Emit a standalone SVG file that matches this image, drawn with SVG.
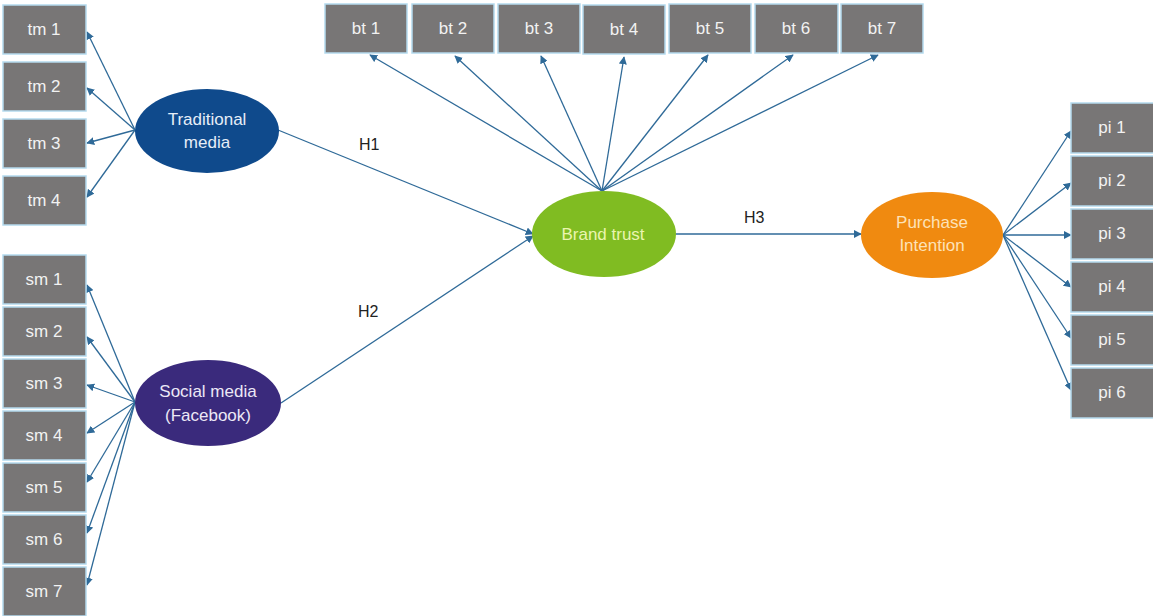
<svg xmlns="http://www.w3.org/2000/svg" width="1153" height="616" viewBox="0 0 1153 616">
<style>
.box{fill:#787676;stroke:#b4daee;stroke-width:1.5}
.bt{fill:#f2f2f2;font-family:"Liberation Sans",Arial,sans-serif;font-size:17px;text-anchor:middle}
.lt{font-family:"Liberation Sans",Arial,sans-serif;font-size:17px;text-anchor:middle}
.h{fill:#222;font-family:"Liberation Sans",Arial,sans-serif;font-size:16px}
.c{stroke:#2f6a98;stroke-width:1.3;fill:none;marker-end:url(#a)}
</style>
<defs>
<marker id="a" viewBox="0 0 10 10" refX="9" refY="5" markerWidth="8" markerHeight="8" orient="auto" markerUnits="userSpaceOnUse">
<path d="M0,0 L10,5 L0,10 z" fill="#2f6a98"/>
</marker>
</defs>
<rect width="1153" height="616" fill="#fff"/>
<g id="connectors">
<line class="c" x1="135" y1="130" x2="87" y2="32"/>
<line class="c" x1="135" y1="130" x2="87" y2="88"/>
<line class="c" x1="135" y1="130" x2="87" y2="143"/>
<line class="c" x1="135" y1="130" x2="87" y2="197"/>
<line class="c" x1="135" y1="402" x2="87" y2="285"/>
<line class="c" x1="135" y1="402" x2="87" y2="337"/>
<line class="c" x1="135" y1="402" x2="87" y2="385"/>
<line class="c" x1="135" y1="402" x2="87" y2="433"/>
<line class="c" x1="135" y1="402" x2="87" y2="482"/>
<line class="c" x1="135" y1="402" x2="87" y2="533"/>
<line class="c" x1="135" y1="402" x2="87" y2="585"/>
<line class="c" x1="602" y1="191" x2="370" y2="55"/>
<line class="c" x1="602" y1="191" x2="455" y2="56"/>
<line class="c" x1="602" y1="191" x2="541" y2="56"/>
<line class="c" x1="602" y1="191" x2="624" y2="57"/>
<line class="c" x1="602" y1="191" x2="708" y2="55"/>
<line class="c" x1="602" y1="191" x2="793" y2="55"/>
<line class="c" x1="602" y1="191" x2="878" y2="55"/>
<line class="c" x1="278" y1="130" x2="533" y2="234"/>
<line class="c" x1="281" y1="403" x2="533" y2="236"/>
<line class="c" x1="676" y1="234" x2="861" y2="234"/>
<line class="c" x1="1003" y1="235" x2="1071" y2="131"/>
<line class="c" x1="1003" y1="235" x2="1071" y2="183"/>
<line class="c" x1="1003" y1="235" x2="1071" y2="235"/>
<line class="c" x1="1003" y1="235" x2="1071" y2="287"/>
<line class="c" x1="1003" y1="235" x2="1071" y2="338"/>
<line class="c" x1="1003" y1="235" x2="1071" y2="390"/>
</g>
<g id="labels">
<text class="h" x="359" y="150">H1</text>
<text class="h" x="358" y="317">H2</text>
<text class="h" x="744" y="223">H3</text>
</g>
<g id="tm1"><rect class="box" x="3" y="5" width="83" height="49"/><text class="bt" x="44" y="35">tm 1</text></g>
<g id="tm2"><rect class="box" x="3" y="62" width="83" height="49"/><text class="bt" x="44" y="92">tm 2</text></g>
<g id="tm3"><rect class="box" x="3" y="119" width="83" height="49"/><text class="bt" x="44" y="149">tm 3</text></g>
<g id="tm4"><rect class="box" x="3" y="176" width="83" height="49"/><text class="bt" x="44" y="206">tm 4</text></g>
<g id="sm1"><rect class="box" x="3" y="255" width="83" height="49"/><text class="bt" x="44" y="285">sm 1</text></g>
<g id="sm2"><rect class="box" x="3" y="307" width="83" height="49"/><text class="bt" x="44" y="337">sm 2</text></g>
<g id="sm3"><rect class="box" x="3" y="359" width="83" height="49"/><text class="bt" x="44" y="389">sm 3</text></g>
<g id="sm4"><rect class="box" x="3" y="411" width="83" height="49"/><text class="bt" x="44" y="441">sm 4</text></g>
<g id="sm5"><rect class="box" x="3" y="463" width="83" height="49"/><text class="bt" x="44" y="493">sm 5</text></g>
<g id="sm6"><rect class="box" x="3" y="515" width="83" height="49"/><text class="bt" x="44" y="545">sm 6</text></g>
<g id="sm7"><rect class="box" x="3" y="567" width="83" height="49"/><text class="bt" x="44" y="597">sm 7</text></g>
<g id="bt1"><rect class="box" x="325" y="4" width="82" height="49"/><text class="bt" x="366" y="34">bt 1</text></g>
<g id="bt2"><rect class="box" x="412" y="4" width="82" height="49"/><text class="bt" x="453" y="34">bt 2</text></g>
<g id="bt3"><rect class="box" x="498" y="4" width="82" height="49"/><text class="bt" x="539" y="34">bt 3</text></g>
<g id="bt4"><rect class="box" x="583" y="5" width="82" height="49"/><text class="bt" x="624" y="35">bt 4</text></g>
<g id="bt5"><rect class="box" x="669" y="4" width="82" height="49"/><text class="bt" x="710" y="34">bt 5</text></g>
<g id="bt6"><rect class="box" x="755" y="4" width="83" height="49"/><text class="bt" x="796" y="34">bt 6</text></g>
<g id="bt7"><rect class="box" x="841" y="4" width="82" height="49"/><text class="bt" x="882" y="34">bt 7</text></g>
<g id="pi1"><rect class="box" x="1071" y="103" width="84" height="50"/><text class="bt" x="1112" y="133">pi 1</text></g>
<g id="pi2"><rect class="box" x="1071" y="156" width="84" height="50"/><text class="bt" x="1112" y="186">pi 2</text></g>
<g id="pi3"><rect class="box" x="1071" y="209" width="84" height="50"/><text class="bt" x="1112" y="239">pi 3</text></g>
<g id="pi4"><rect class="box" x="1071" y="262" width="84" height="50"/><text class="bt" x="1112" y="292">pi 4</text></g>
<g id="pi5"><rect class="box" x="1071" y="315" width="84" height="50"/><text class="bt" x="1112" y="345">pi 5</text></g>
<g id="pi6"><rect class="box" x="1071" y="368" width="84" height="50"/><text class="bt" x="1112" y="398">pi 6</text></g>
<g id="traditional-media"><ellipse cx="207" cy="131" rx="72" ry="42" fill="#0f4a8c"/><text class="lt" fill="#e6eef8" x="207" y="125">Traditional</text><text class="lt" fill="#e6eef8" x="207" y="148">media</text></g>
<g id="social-media"><ellipse cx="208" cy="403" rx="73" ry="43" fill="#3a2a7c"/><text class="lt" fill="#ece8f6" x="208" y="397">Social media</text><text class="lt" fill="#ece8f6" x="208" y="421">(Facebook)</text></g>
<g id="brand-trust"><ellipse cx="604" cy="234" rx="72" ry="43" fill="#80bc22"/><text class="lt" fill="#eaf5b0" x="603" y="240">Brand trust</text></g>
<g id="purchase-intention"><ellipse cx="932" cy="235" rx="71" ry="43" fill="#f08a10"/><text class="lt" fill="#fde2b8" x="932" y="228">Purchase</text><text class="lt" fill="#fde2b8" x="932" y="251">Intention</text></g>
</svg>
